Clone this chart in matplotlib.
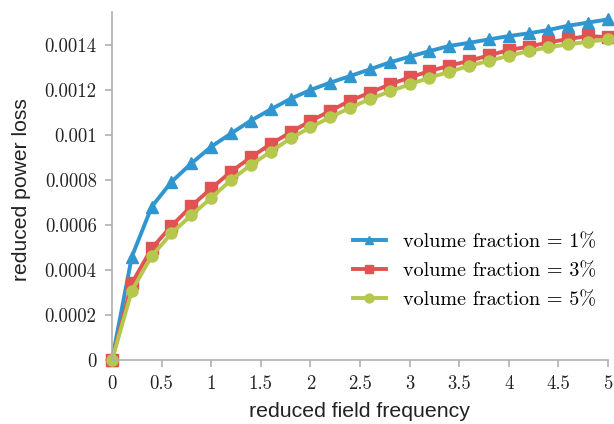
import matplotlib
matplotlib.use('Agg')
import matplotlib.pyplot as plt

# reduced field frequency
frecuencia = [0.0, 0.2, 0.4, 0.6, 0.8, 1.0, 1.2, 1.4, 1.6, 1.8, 2.0, 2.2, 2.4,
              2.6, 2.8, 3.0, 3.2, 3.4, 3.6, 3.8, 4.0, 4.2, 4.4, 4.6, 4.8, 5.0]

# reduced power loss per volume fraction
perdida_1 = [0.0, 0.000459, 0.000681, 0.000792, 0.000874, 0.000948, 0.001007,
             0.001064, 0.001114, 0.001161, 0.0012, 0.001233, 0.001262, 0.001292,
             0.001323, 0.001348, 0.001373, 0.001396, 0.00141, 0.001425, 0.00144,
             0.001452, 0.001467, 0.001486, 0.0015, 0.001514]
perdida_3 = [0.0, 0.000341, 0.000496, 0.000596, 0.000684, 0.000763, 0.000837,
             0.000901, 0.00096, 0.001012, 0.001062, 0.001107, 0.001153, 0.001188,
             0.001225, 0.001256, 0.001284, 0.001308, 0.00133, 0.001354, 0.001378,
             0.001393, 0.001412, 0.001427, 0.00144, 0.001435]
perdida_5 = [0.0, 0.000308, 0.000462, 0.000563, 0.000644, 0.00072, 0.0008,
             0.000867, 0.000926, 0.000985, 0.001034, 0.001079, 0.001121, 0.00116,
             0.001194, 0.001225, 0.001255, 0.001281, 0.001307, 0.00133, 0.001352,
             0.001373, 0.00139, 0.001403, 0.001415, 0.001425]

etiquetas = ['volume fraction = 1%', 'volume fraction = 3%', 'volume fraction = 5%']
colores = ['#2f96d0', '#e05352', '#b5c84d']
marcadores = ['^', 's', 'o']

x_ticks = [0, 0.5, 1, 1.5, 2, 2.5, 3, 3.5, 4, 4.5, 5]
y_ticks = [0, 0.0002, 0.0004, 0.0006, 0.0008, 0.001, 0.0012, 0.0014]
y_tick_labels = ['0', '0.0002', '0.0004', '0.0006', '0.0008', '0.001', '0.0012', '0.0014']

fig = plt.figure(figsize=(6.14, 4.24), dpi=100)
ax = fig.add_axes([0.1824, 0.151, 0.8076, 0.8207])

for serie, etiqueta, color, marcador in zip([perdida_1, perdida_3, perdida_5], etiquetas, colores, marcadores):
    ax.plot(frecuencia, serie, color=color, marker=marcador, markersize=8,
            linewidth=2.8, label=etiqueta, clip_on=False)

ax.set_xlim(0, 5)
ax.set_ylim(0, 0.001547)
ax.set_xticks(x_ticks)
ax.set_xticklabels([f'{t:g}' for t in x_ticks], fontfamily='cmr10', fontsize=13.5)
ax.set_yticks(y_ticks)
ax.set_yticklabels(y_tick_labels, fontfamily='cmr10', fontsize=13.5)

ax.spines['top'].set_visible(False)
ax.spines['right'].set_visible(False)
for lado in ['left', 'bottom']:
    ax.spines[lado].set_color('#b0b0b0')
    ax.spines[lado].set_linewidth(1.2)
ax.tick_params(colors='#b0b0b0', labelcolor='#222222', length=5, width=1.2, pad=6)

ax.set_xlabel('reduced field frequency', fontfamily='Liberation Sans', fontsize=15.3,
              color='#222222', labelpad=6)
ax.set_ylabel('reduced power loss', fontfamily='Liberation Sans', fontsize=15.2,
              color='#222222')
ax.yaxis.set_label_coords(-0.164, 0.49)

ax.legend(loc='center right', bbox_to_anchor=(1.0, 0.256), frameon=False,
          prop={'family': 'cmr10', 'size': 14.5}, handlelength=1.6,
          markerscale=0.8, labelspacing=0.55, handletextpad=0.85,
          borderaxespad=0.2)

plt.savefig('out.png', dpi=100)
